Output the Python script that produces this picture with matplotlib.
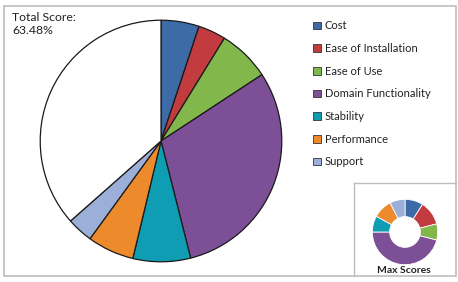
import matplotlib
matplotlib.use("Agg")
import matplotlib.pyplot as plt
from matplotlib.patches import Rectangle
from matplotlib.lines import Line2D

plt.rcParams["font.family"] = ["Lato", "DejaVu Sans"]

categories = [
    "Cost",
    "Ease of Installation",
    "Ease of Use",
    "Domain Functionality",
    "Stability",
    "Performance",
    "Support",
]
scores = [5.1, 3.7, 6.95, 30.3, 7.7, 6.25, 3.48]
max_scores = [9, 12, 8, 46, 8, 9.5, 7.5]
colors = ["#3C6BA8", "#C23B3F", "#82B74B", "#7C4F96", "#0F9DB3", "#EC8A2C", "#9CAFD9"]

total = sum(scores)
remainder = 100 - total

W, H = 458, 282
fig = plt.figure(figsize=(W / 100, H / 100), dpi=100)
fig.patch.set_facecolor("white")

# main pie, centre (161, 141) px, radius 122 px
cx, cy, r = 161, 141, 122
ax = fig.add_axes([(cx - r) / W, (H - cy - r) / H, 2 * r / W, 2 * r / H])
wedges, _ = ax.pie(
    scores + [remainder],
    colors=colors + ["white"],
    startangle=90,
    counterclock=False,
    wedgeprops=dict(edgecolor="#1a1a1a", linewidth=0.9),
)
ax.set_xlim(-1.01, 1.01)
ax.set_ylim(-1.01, 1.01)

# small donut with max scores
dx, dy, dr = 405, 232, 33
ax2 = fig.add_axes([(dx - dr) / W, (H - dy - dr) / H, 2 * dr / W, 2 * dr / H])
ax2.pie(
    max_scores,
    colors=colors,
    startangle=90,
    counterclock=False,
    wedgeprops=dict(width=0.53, edgecolor="white", linewidth=0.6),
)
ax2.set_xlim(-1.01, 1.01)
ax2.set_ylim(-1.01, 1.01)

# frames
fig.add_artist(Rectangle((4 / W, (H - 276) / H), 452 / W, 270 / H,
                         transform=fig.transFigure, fill=False,
                         edgecolor="#bdbdbd", linewidth=1.2))
fig.add_artist(Line2D([354 / W, 354 / W], [(H - 183) / H, (H - 276) / H],
                      transform=fig.transFigure, color="#bdbdbd", linewidth=1.0))
fig.add_artist(Line2D([354 / W, 456 / W], [(H - 183) / H, (H - 183) / H],
                      transform=fig.transFigure, color="#bdbdbd", linewidth=1.0))

fig.text(12 / W, 1 - 12 / H, "Total Score:\n{:.2f}%".format(total),
         ha="left", va="top", fontsize=8.8, color="#222222", linespacing=1.2)
fig.text(404 / W, 1 - 270.5 / H, "Max Scores", ha="center", va="center",
         fontsize=7.5, fontweight="bold", color="#222222")

leg = fig.legend(
    wedges[:7], categories,
    loc="upper left", bbox_to_anchor=(309 / W, 1 - 16 / H),
    frameon=False, fontsize=8, handlelength=0.65, handleheight=0.65,
    handletextpad=0.35, labelspacing=1.05, borderaxespad=0,
)
for t in leg.get_texts():
    t.set_color("#222222")
for h in leg.legend_handles:
    h.set_edgecolor("#333333")
    h.set_linewidth(0.6)

fig.savefig("out.png", dpi=100)
